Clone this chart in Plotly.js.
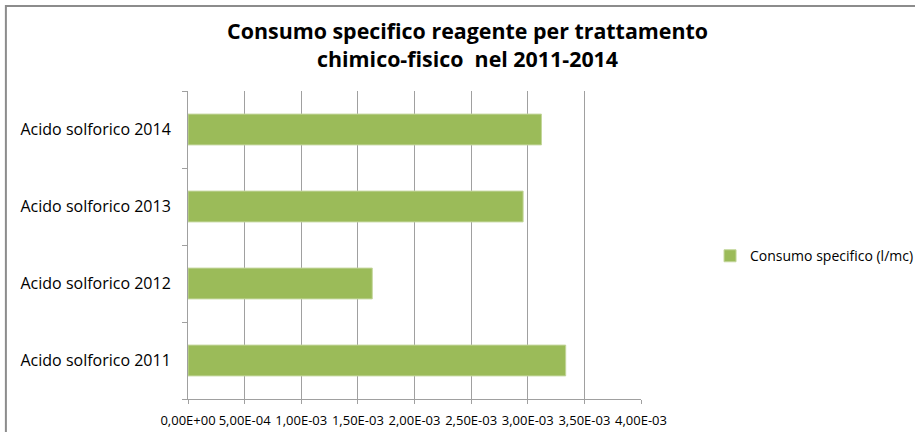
<!DOCTYPE html>
<html>
<head>
<meta charset="utf-8">
<script src="https://cdn.plot.ly/plotly-3.0.1.min.js"></script>
<style>
html,body{margin:0;padding:0;background:#fff;}
#chart{width:915px;height:432px;}
</style>
</head>
<body>
<div id="chart"></div>
<script>
const categories = ["Acido solforico 2011", "Acido solforico 2012", "Acido solforico 2013", "Acido solforico 2014"];
const consumoSpecifico = [3.335e-3, 1.627e-3, 2.959e-3, 3.121e-3];
const seriesName = "Consumo specifico (l/mc)";
const xTickVals = [0, 0.5e-3, 1.0e-3, 1.5e-3, 2.0e-3, 2.5e-3, 3.0e-3, 3.5e-3, 4.0e-3];
const xTickText = ["0,00E+00", "5,00E-04", "1,00E-03", "1,50E-03", "2,00E-03", "2,50E-03", "3,00E-03", "3,50E-03", "4,00E-03"];

const trace = {
  type: "bar",
  orientation: "h",
  y: categories,
  x: consumoSpecifico,
  name: seriesName,
  marker: { color: "#9BBB59", line: { color: "#C3D69B", width: 1 } },
  showlegend: true,
  hoverinfo: "x+y"
};

const layout = {
  width: 915,
  height: 432,
  margin: { l: 188, r: 274, t: 91, b: 33, autoexpand: false },
  paper_bgcolor: "#ffffff",
  plot_bgcolor: "#ffffff",
  font: { family: "Open Sans, sans-serif", size: 13, color: "#000000" },
  title: {
    text: "Consumo specifico reagente per trattamento<br>chimico-fisico  nel 2011-2014",
    font: { family: "Open Sans, sans-serif", size: 21.4, color: "#000000", weight: "bold" },
    x: 0.511, xanchor: "center",
    y: 0.91, yanchor: "middle", yref: "container"
  },
  bargap: 0.6,
  xaxis: {
    range: [0, 0.004],
    tickmode: "array",
    tickvals: xTickVals,
    ticktext: xTickText,
    tickangle: 0,
    automargin: false,
    showgrid: true,
    gridcolor: "#a0a0a0",
    gridwidth: 1,
    zeroline: false,
    showline: true,
    linecolor: "#a0a0a0",
    linewidth: 1,
    ticks: "outside",
    ticklen: 4,
    tickcolor: "#a0a0a0",
    ticklabelstandoff: 5,
    tickfont: { family: "Open Sans, sans-serif", size: 13, color: "#000000" },
    fixedrange: true
  },
  yaxis: {
    type: "category",
    categoryorder: "array",
    categoryarray: categories,
    automargin: false,
    showgrid: false,
    zeroline: false,
    showline: true,
    linecolor: "#a0a0a0",
    linewidth: 1,
    ticks: "outside",
    tickson: "boundaries",
    ticklen: 5,
    tickcolor: "#a0a0a0",
    ticklabelstandoff: 13,
    tickfont: { family: "Open Sans, sans-serif", size: 16, color: "#000000" },
    fixedrange: true
  },
  legend: {
    xref: "container", yref: "container",
    x: 0.776, xanchor: "left",
    y: 0.407, yanchor: "middle",
    font: { family: "Open Sans, sans-serif", size: 14, color: "#000000" },
    bgcolor: "rgba(0,0,0,0)",
    itemwidth: 30
  },
  shapes: [{
    type: "rect", xref: "paper", yref: "paper", layer: "below",
    x0: -0.402, x1: 1.65, y0: -0.15, y1: 1.276,
    line: { color: "#8c8c8c", width: 2 }, fillcolor: "rgba(0,0,0,0)"
  }]
};

Plotly.newPlot("chart", [trace], layout, { displayModeBar: false, staticPlot: true });
</script>
</body>
</html>
